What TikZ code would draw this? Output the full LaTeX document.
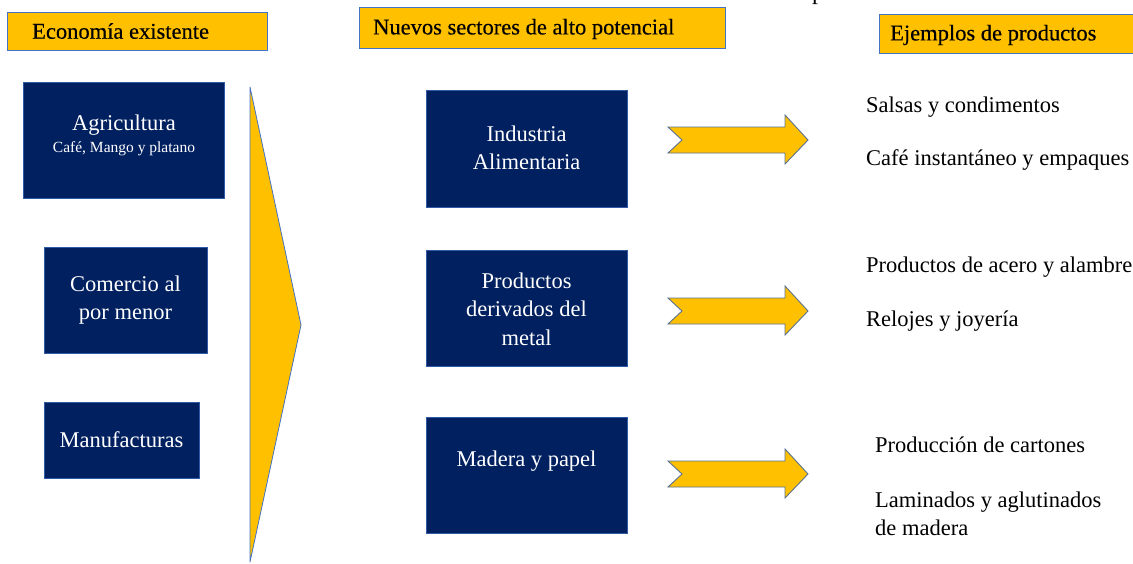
\documentclass[tikz,border=0pt]{standalone}
\usepackage{fontspec}
\setmainfont{Liberation Serif}
\newfontface\hfont{Liberation Serif}[FakeBold=0.35]
\definecolor{gold}{HTML}{FFC000}
\definecolor{navy}{HTML}{002060}
\definecolor{edgeblue}{HTML}{4472C4}
\definecolor{arrowedge}{HTML}{5A7290}
\tikzset{
  header/.style={draw=edgeblue, line width=0.8pt, fill=gold, inner sep=0pt},
  htext/.style={anchor=west, font=\hfont\fontsize{22.5}{26}\selectfont, text=black, inner sep=0pt},
  navybox/.style={draw=edgeblue!70!navy, line width=0.7pt, fill=navy, inner sep=0pt},
  btext/.style={align=center, text=white, font=\fontsize{22.5}{28.5}\selectfont},
  bigarrow/.style={draw=arrowedge, line width=0.9pt, fill=gold, line join=miter},
  item/.style={anchor=west, align=left, font=\fontsize{22.5}{28}\selectfont, text=black, inner sep=0pt}
}
\begin{document}
\begin{tikzpicture}[x=1pt,y=-1pt]
\useasboundingbox (0,0) rectangle (1133,563);
\clip (0,0) rectangle (1133,563);
% cut-off title fragment
\node[anchor=base, font=\fontsize{24}{28}\selectfont, inner sep=0pt] (ttl) at (818,-1) {p};
% headers
\draw[header] (7,12) rectangle (267,50);
\node[htext] (h1) at (32,31) {Economía existente};
\draw[header] (359,7) rectangle (725,48);
\node[htext] (h2) at (373,29) {Nuevos sectores de alto potencial};
\draw[header] (879,14) rectangle (1140,53);
\node[htext] (h3) at (890,35) {Ejemplos de productos};
% left boxes
\draw[navybox] (23,82) rectangle (224,198);
\node[btext] (agr) at (124,125) {Agricultura};
\node[btext, font=\fontsize{15.5}{17}\selectfont] (agrs) at (124,149) {Café, Mango y platano};
\draw[navybox] (44,247) rectangle (207,353);
\node[btext] (com) at (125.5,300) {Comercio al\\por menor};
\draw[navybox] (44,402) rectangle (199,478);
\node[btext] (man) at (121.5,440) {Manufacturas};
% big triangle
\draw[draw=edgeblue, line width=0.8pt, fill=gold, line join=round] (250,87) -- (301,325) -- (250,562) -- cycle;
% middle boxes
\draw[navybox] (426,90) rectangle (627,207);
\node[btext] (ind) at (526.5,148) {Industria\\Alimentaria};
\draw[navybox] (426,250) rectangle (627,366);
\node[btext] (met) at (526.5,309) {Productos\\derivados del\\metal};
\draw[navybox] (426,417) rectangle (627,533);
\node[btext] (mad) at (526.5,461) {Madera y papel};
% arrows
\foreach \c in {140,311,474}{
  \draw[bigarrow] (668,\c-13) -- (785,\c-13) -- (785,\c-25) -- (808,\c) -- (785,\c+24) -- (785,\c+13) -- (668,\c+13) -- (682,\c) -- cycle;
}
% product examples
\node[item] (p1) at (866,107) {Salsas y condimentos};
\node[item] (p2) at (866,160) {Café instantáneo y empaques};
\node[item] (p3) at (866,267) {Productos de acero y alambre};
\node[item] (p4) at (866,321) {Relojes y joyería};
\node[item] (p5) at (875,445) {Producción de cartones};
\node[item] (p6) at (875,514) {Laminados y aglutinados\\de madera};
\end{tikzpicture}
\end{document}
